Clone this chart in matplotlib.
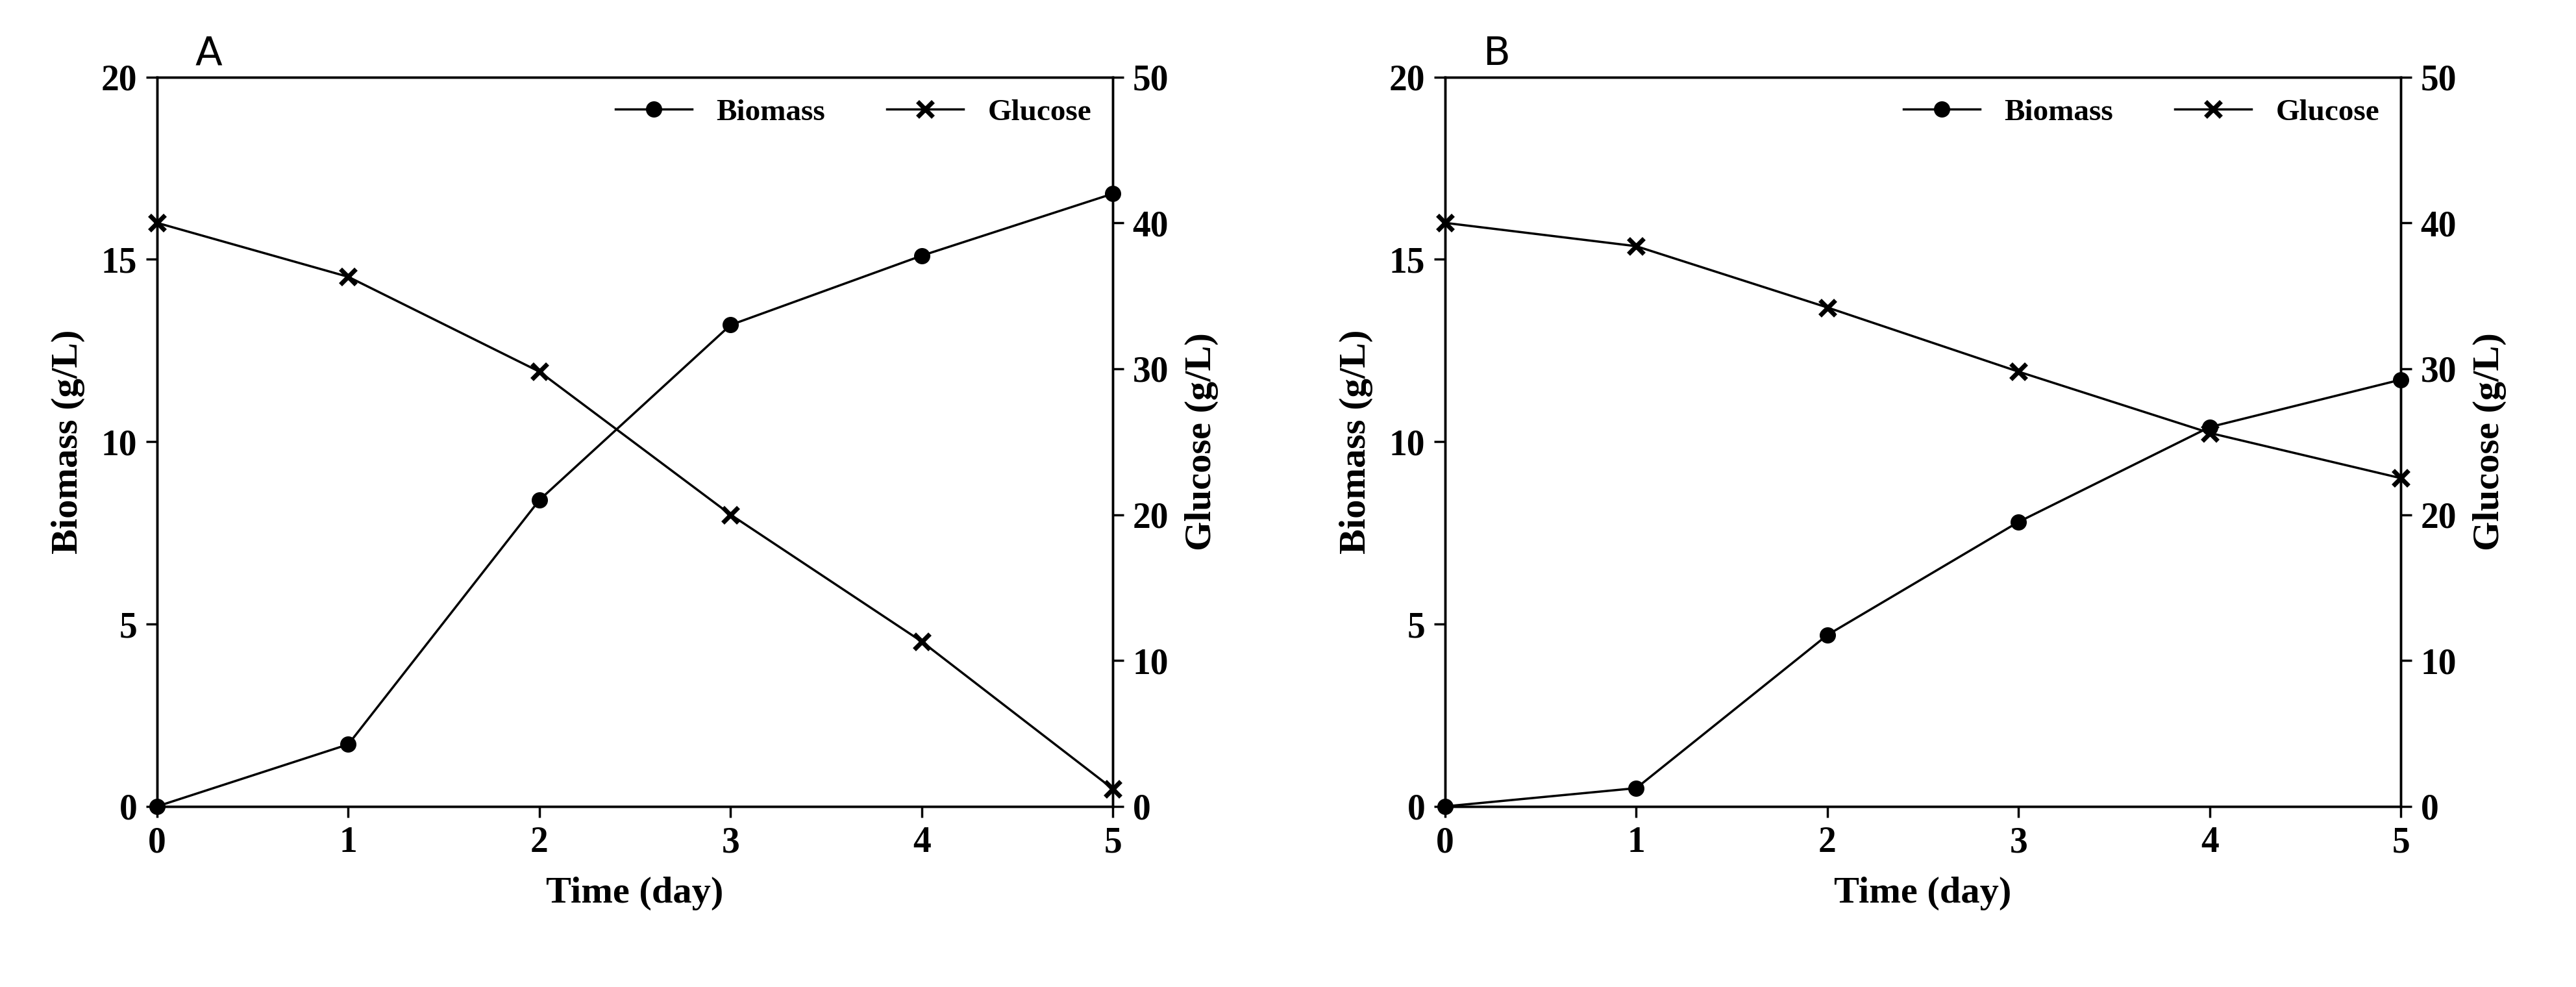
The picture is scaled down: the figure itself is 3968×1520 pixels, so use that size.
import matplotlib
matplotlib.use('Agg')
import matplotlib.pyplot as plt

days = [0, 1, 2, 3, 4, 5]
biomass_a = [0.0, 1.7, 8.4, 13.2, 15.1, 16.8]
glucose_a = [40.0, 36.3, 29.8, 20.0, 11.3, 1.2]
biomass_b = [0.0, 0.5, 4.7, 7.8, 10.4, 11.7]
glucose_b = [40.0, 38.4, 34.2, 29.8, 25.6, 22.5]
panels = ['A', 'B']

serif = {'family': 'Liberation Serif', 'weight': 'bold'}
fig = plt.figure(figsize=(39.68, 15.2), dpi=100)
lefts = [0.061, 0.561]

for left, tag, bio, glu in zip(lefts, panels, [biomass_a, biomass_b], [glucose_a, glucose_b]):
    ax = fig.add_axes([left, 0.183, 0.371, 0.739])
    ax2 = ax.twinx()
    l1, = ax.plot(days, bio, color='black', lw=2.5, marker='o', ms=17,
                  label='Biomass', clip_on=False, zorder=5)
    l2, = ax2.plot(days, glu, color='black', lw=2.5, marker='x', ms=17, mew=5,
                   label='Glucose', clip_on=False, zorder=5)
    ax.set_xlim(0, 5)
    ax.set_ylim(0, 20)
    ax2.set_ylim(0, 50)
    ax.set_xticks(days)
    ax.set_yticks([0, 5, 10, 15, 20])
    ax2.set_yticks([0, 10, 20, 30, 40, 50])
    for a in (ax, ax2):
        a.tick_params(labelsize=40, width=2.5, length=12, direction='out', pad=10)
        for lab in a.get_xticklabels() + a.get_yticklabels():
            lab.set_fontfamily('Liberation Serif')
            lab.set_fontweight('bold')
        for s in a.spines.values():
            s.set_linewidth(2.5)
    ax.set_xlabel('Time (day)', fontdict=serif, fontsize=42, labelpad=18)
    ax.set_ylabel('Biomass (g/L)', fontdict=serif, fontsize=42, labelpad=18)
    ax2.set_ylabel('Glucose (g/L)', fontdict=serif, fontsize=42, labelpad=18)
    ax.text(0.04, 1.005, tag, transform=ax.transAxes, fontsize=44,
            family='DejaVu Sans', va='bottom')
    ax.legend([l1, l2], ['Biomass', 'Glucose'], loc='upper right', ncol=2,
              frameon=False, prop={'family': 'Liberation Serif', 'weight': 'bold', 'size': 34},
              handlelength=2.5, columnspacing=2.0, borderaxespad=0.3)

fig.savefig('out.png', dpi=100)
